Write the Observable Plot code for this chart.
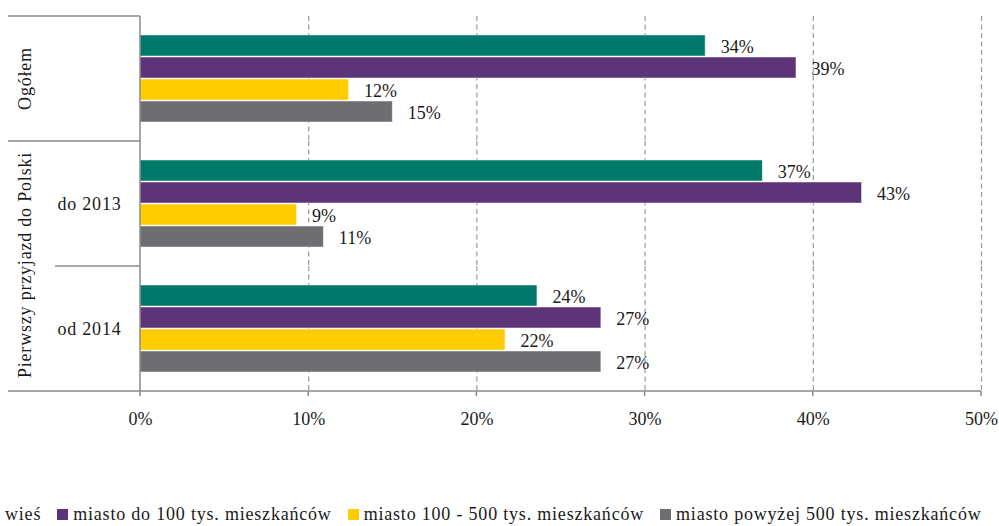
<!DOCTYPE html>
<html><head><meta charset="utf-8">
<script src="https://cdn.jsdelivr.net/npm/d3@7"></script>
<script src="https://cdn.jsdelivr.net/npm/@observablehq/plot@0.6"></script>
<style>
html,body{margin:0;padding:0;background:#fff;}
body{width:999px;height:526px;overflow:hidden;position:relative;font-family:"Liberation Serif",serif;color:#1a1a1a;}
#chart{position:absolute;left:0;top:0;}
#legend{position:absolute;left:-11px;top:503px;white-space:nowrap;font-size:18px;line-height:22px;letter-spacing:0.8px;}
#legend .item{display:inline-block;margin-right:16px;}
#legend .sw{display:inline-block;width:11px;height:11px;margin-right:5px;}
.lbl text, text.lbl{letter-spacing:0.8px;}
</style>
</head><body>
<div id="chart"></div>
<div id="legend"></div>
<script>
// ---- data ----
const groups = ["Ogółem", "do 2013", "od 2014"];
const series = ["wieś", "miasto do 100 tys. mieszkańców", "miasto 100 - 500 tys. mieszkańców", "miasto powyżej 500 tys. mieszkańców"];
const colors = ["#00796b", "#5e3479", "#ffcc00", "#6e6d72"];
const wies = [33.6, 37.0, 23.6];
const miastoDo100 = [39.0, 42.9, 27.4];
const miasto100_500 = [12.4, 9.3, 21.7];
const miastoPow500 = [15.0, 10.9, 27.4];
const xTicks = [0, 10, 20, 30, 40, 50];
const groupTitle = "Pierwszy przyjazd do Polski";

(function () {
const seriesValues = [wies, miastoDo100, miasto100_500, miastoPow500];
const rows = [];
groups.forEach((g, gi) => series.forEach((s, si) => rows.push({group: g, series: s, value: seriesValues[si][gi]})));

const W = 999, H = 500;
const plot = Plot.plot({
  width: W, height: H,
  marginLeft: 140, marginRight: 18, marginTop: 15, marginBottom: 108,
  style: {fontFamily: "Liberation Serif, serif", fontSize: "18px", color: "#1a1a1a", background: "transparent", overflow: "visible"},
  x: {domain: [0, 50], ticks: xTicks, tickFormat: d => d + "%"},
  y: {domain: series, paddingInner: 0.03, paddingOuter: 0.78, axis: null},
  fy: {domain: groups, padding: 0, axis: null},
  color: {domain: series, range: colors},
  marks: [
    Plot.ruleX(xTicks.slice(1), {stroke: "#9a9a9a", strokeWidth: 1.2, strokeDasharray: "5,3.5"}),
    Plot.barX(rows, {x: "value", y: "series", fy: "group", fill: "series", stroke: "#fff", strokeOpacity: 0.6, strokeWidth: 0.8}),
    Plot.text(rows, {x: "value", y: "series", fy: "group", text: d => Math.round(d.value) + "%", textAnchor: "start", dx: 15, dy: 1, fontSize: 18, fill: "#1a1a1a"}),
    Plot.text(["do 2013", "od 2014"], {fy: d => d, text: d => d, frameAnchor: "left", textAnchor: "end", dx: -19, fontSize: 18, fill: "#1a1a1a", className: "lbl"}),
    Plot.axisX(xTicks, {tickSize: 0, tickPadding: 21, fontSize: 18, label: null, tickFormat: d => d + "%", fill: "#1a1a1a"})
  ]
});
document.getElementById("chart").appendChild(plot);

// structural lines and rotated labels drawn from the plot's own scales
const xs = plot.scale("x"), fys = plot.scale("fy");
const bw = fys.bandwidth;
const yTop = fys.apply(groups[0]), b1 = fys.apply(groups[1]), b2 = fys.apply(groups[2]), yBottom = b2 + bw;
const x0 = xs.apply(0), xEnd = xs.apply(50);
const svg = d3.select(plot);
const g = svg.append("g").attr("stroke", "#8a8a8a").attr("stroke-width", 1.5).attr("fill", "none");
const seg = (x1, y1, x2, y2) => g.append("line").attr("x1", x1).attr("y1", y1).attr("x2", x2).attr("y2", y2);
seg(8, yTop, x0, yTop);
seg(8, b1, x0, b1);
seg(55, b2, x0, b2);
seg(8, yBottom, xEnd, yBottom);
seg(x0, yTop, x0, yBottom + 5);
xTicks.slice(1).forEach(t => seg(xs.apply(t), yBottom, xs.apply(t), yBottom + 5));

const rot = (label, cy) => svg.append("text").attr("class", "lbl")
  .attr("transform", `translate(31,${cy}) rotate(-90)`)
  .attr("text-anchor", "middle").attr("font-size", 18).attr("fill", "#1a1a1a").text(label);
rot(groups[0], yTop + bw / 2);
rot(groupTitle, b2 - 1);

// legend
const lg = d3.select("#legend");
series.forEach((s, i) => {
  const it = lg.append("span").attr("class", "item");
  it.append("span").attr("class", "sw").style("background", colors[i]);
  it.append("span").text(s);
});
})();
</script>
</body></html>
